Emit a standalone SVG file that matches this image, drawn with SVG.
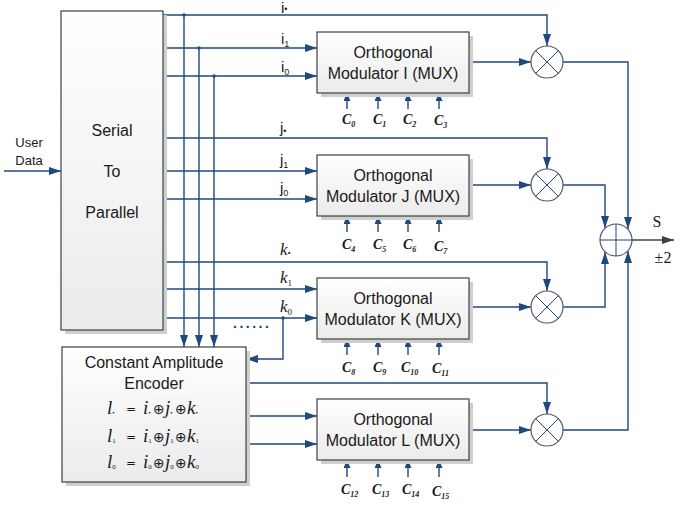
<svg xmlns="http://www.w3.org/2000/svg" width="692" height="511" viewBox="0 0 692 511">
<defs>
<linearGradient id="boxg" x1="0" y1="0" x2="0" y2="1">
<stop offset="0" stop-color="#ffffff"/>
<stop offset="1" stop-color="#ebebeb"/>
</linearGradient>
<marker id="ah" markerUnits="userSpaceOnUse" markerWidth="12" markerHeight="8" refX="12" refY="4" orient="auto" viewBox="0 0 12 8">
<path d="M0,0 L12,4 L0,8 z" fill="#1f497d"/>
</marker>
<marker id="ahs" markerUnits="userSpaceOnUse" markerWidth="8" markerHeight="7" refX="8" refY="3.5" orient="auto" viewBox="0 0 8 7">
<path d="M0,0 L8,3.5 L0,7 z" fill="#1f497d"/>
</marker>
<marker id="ahg" markerUnits="userSpaceOnUse" markerWidth="12" markerHeight="8" refX="12" refY="4" orient="auto" viewBox="0 0 12 8">
<path d="M0,0 L12,4 L0,8 z" fill="#404040"/>
</marker>
<style>
.box{fill:url(#boxg);stroke:#404040;stroke-width:1.2}
.sh{fill:#cfcfcf}
.ln{fill:none;stroke:#1f497d;stroke-width:1.4}
.a{marker-end:url(#ah)}
.as{marker-end:url(#ahs)}
.t{font-family:"Liberation Sans",Arial,sans-serif;font-size:16px;fill:#1a1a1a;text-anchor:middle}
.ts{font-family:"Liberation Sans",Arial,sans-serif;font-size:13px;fill:#1a1a1a;text-anchor:middle}
.lb{font-family:"Liberation Sans",Arial,sans-serif;font-size:15px;fill:#1a1a1a}
.lk{font-family:"Liberation Serif",serif;font-style:italic;font-size:17px;fill:#1a1a1a}
.sub{font-size:9px}
.c{font-family:"Liberation Serif",serif;font-style:italic;font-weight:bold;font-size:14px;fill:#1a1a1a}
.cs{font-size:8px}
.eq{font-family:"Liberation Serif",serif;font-style:italic;font-size:19px;fill:#1a1a1a}
.eqs{font-size:7px;font-style:normal}
.op{font-family:"DejaVu Sans",sans-serif;font-style:normal;font-size:12px;fill:#1a1a1a}
.ox{font-family:"DejaVu Sans",sans-serif;font-style:normal;font-size:14px;fill:#1a1a1a}
.mc{fill:#ffffff;stroke:#595959;stroke-width:1.2}
.mx{stroke:#1f497d;stroke-width:1;fill:none}
.dot{fill:#1f497d}
.sv{font-family:"Liberation Serif",serif;font-size:16px;fill:#1a1a1a;text-anchor:middle}
</style>
</defs>
<rect width="692" height="511" fill="#ffffff"/>

<g id="connectors">
<path class="ln a" d="M4,171 H61"/>
<path class="ln a" d="M163,15 H547 V46"/>
<path class="ln a" d="M163,48 H317"/>
<path class="ln a" d="M163,76 H317"/>
<path class="ln a" d="M163,138 H547 V169"/>
<path class="ln a" d="M163,171 H317"/>
<path class="ln a" d="M163,199 H317"/>
<path class="ln a" d="M163,262 H547 V291"/>
<path class="ln a" d="M163,289 H317"/>
<path class="ln a" d="M163,318 H317"/>
<path class="ln a" d="M184,15 V347"/>
<path class="ln a" d="M199,48 V347"/>
<path class="ln a" d="M214,76 V347"/>
<path class="ln a" d="M283,318 V359 H246"/>
<path class="ln a" d="M246,383 H547 V414"/>
<path class="ln a" d="M246,416 H317"/>
<path class="ln a" d="M246,444 H317"/>
<path class="ln a" d="M469,62 H531"/>
<path class="ln a" d="M469,185 H531"/>
<path class="ln a" d="M469,307 H531"/>
<path class="ln a" d="M469,430 H531"/>
<path class="ln a" d="M563,62 H628 V229"/>
<path class="ln a" d="M563,185 H605 V228"/>
<path class="ln a" d="M563,307 H605 V252"/>
<path class="ln a" d="M563,430 H628 V251"/>
<path fill="none" stroke="#404040" stroke-width="1.4" marker-end="url(#ahg)" d="M632,240 H674"/>
<path class="ln as" d="M347,109 V93"/>
<path class="ln as" d="M378,109 V93"/>
<path class="ln as" d="M408,109 V93"/>
<path class="ln as" d="M439,109 V93"/>
<path class="ln as" d="M347,232 V216"/>
<path class="ln as" d="M378,232 V216"/>
<path class="ln as" d="M408,232 V216"/>
<path class="ln as" d="M439,232 V216"/>
<path class="ln as" d="M347,355 V339"/>
<path class="ln as" d="M378,355 V339"/>
<path class="ln as" d="M408,355 V339"/>
<path class="ln as" d="M439,355 V339"/>
<path class="ln as" d="M347,477 V460"/>
<path class="ln as" d="M378,477 V460"/>
<path class="ln as" d="M408,477 V460"/>
<path class="ln as" d="M439,477 V460"/>
<circle class="dot" cx="184" cy="15" r="1.7"/>
<circle class="dot" cx="199" cy="48" r="1.7"/>
<circle class="dot" cx="214" cy="76" r="1.7"/>
<circle class="dot" cx="283" cy="318" r="1.7"/>
</g>

<g id="line-labels">
<text class="ts" x="29" y="147">User</text>
<text class="ts" x="29" y="165">Data</text>
<text class="lb" x="281" y="13">i<tspan class="sub" dy="-1">•</tspan></text>
<text class="lb" x="281" y="44">i<tspan class="sub" dy="3">1</tspan></text>
<text class="lb" x="281" y="72">i<tspan class="sub" dy="3">0</tspan></text>
<text class="lb" x="280" y="133">j<tspan class="sub" dy="1">•</tspan></text>
<text class="lb" x="280" y="165">j<tspan class="sub" dy="3">1</tspan></text>
<text class="lb" x="280" y="193">j<tspan class="sub" dy="3">0</tspan></text>
<text class="lk" x="280" y="255">k<tspan class="sub" dy="1">•</tspan></text>
<text class="lk" x="280" y="283">k<tspan class="sub" dy="3" font-style="normal">1</tspan></text>
<text class="lk" x="280" y="312">k<tspan class="sub" dy="3" font-style="normal">0</tspan></text>
<text x="233" y="328" font-family="Liberation Sans, sans-serif" font-weight="bold" font-size="14" letter-spacing="2.5" fill="#1f3f6f">......</text>
<text class="sv" x="657" y="227">S</text>
<text class="sv" x="663" y="263">±2</text>
</g>

<g id="c-labels">
<text class="c" x="342" y="124">C<tspan class="cs" dy="3">0</tspan></text>
<text class="c" x="373" y="124">C<tspan class="cs" dy="3">1</tspan></text>
<text class="c" x="403" y="124">C<tspan class="cs" dy="3">2</tspan></text>
<text class="c" x="434" y="125">C<tspan class="cs" dy="3">3</tspan></text>
<text class="c" x="342" y="249">C<tspan class="cs" dy="3">4</tspan></text>
<text class="c" x="373" y="249">C<tspan class="cs" dy="3">5</tspan></text>
<text class="c" x="403" y="249">C<tspan class="cs" dy="3">6</tspan></text>
<text class="c" x="434" y="251">C<tspan class="cs" dy="3">7</tspan></text>
<text class="c" x="342" y="372">C<tspan class="cs" dy="3">8</tspan></text>
<text class="c" x="373" y="372">C<tspan class="cs" dy="3">9</tspan></text>
<text class="c" x="401" y="372">C<tspan class="cs" dy="3">10</tspan></text>
<text class="c" x="432" y="373">C<tspan class="cs" dy="3">11</tspan></text>
<text class="c" x="341" y="494">C<tspan class="cs" dy="3">12</tspan></text>
<text class="c" x="372" y="494">C<tspan class="cs" dy="3">13</tspan></text>
<text class="c" x="402" y="494">C<tspan class="cs" dy="3">14</tspan></text>
<text class="c" x="432" y="496">C<tspan class="cs" dy="3">15</tspan></text>
</g>

<g id="serial-to-parallel">
<rect class="sh" x="65" y="15" width="102" height="319"/>
<rect class="box" x="61" y="11" width="102" height="319"/>
<text class="t" x="112" y="136">Serial</text>
<text class="t" x="112" y="177">To</text>
<text class="t" x="112" y="218">Parallel</text>
</g>

<g id="encoder">
<rect class="sh" x="66" y="351" width="184" height="135"/>
<rect class="box" x="62" y="347" width="184" height="135"/>
<text class="t" x="154" y="368">Constant Amplitude</text>
<text class="t" x="154" y="389">Encoder</text>
<text class="eq" y="414"><tspan x="107">l</tspan><tspan class="eqs" dy="1">•</tspan><tspan class="op" x="126" dy="-2">=</tspan><tspan x="143" dy="1">i</tspan><tspan class="eqs" dy="1">•</tspan><tspan class="ox" x="153" dy="-1">⊕</tspan><tspan x="165">j</tspan><tspan class="eqs" dy="1">•</tspan><tspan class="ox" x="175" dy="-1">⊕</tspan><tspan x="187">k</tspan><tspan class="eqs" dy="1">•</tspan></text>
<text class="eq" y="442"><tspan x="107">l</tspan><tspan class="eqs" dy="1">1</tspan><tspan class="op" x="126" dy="-2">=</tspan><tspan x="143" dy="1">i</tspan><tspan class="eqs" dy="1">1</tspan><tspan class="ox" x="153" dy="-1">⊕</tspan><tspan x="165">j</tspan><tspan class="eqs" dy="1">1</tspan><tspan class="ox" x="175" dy="-1">⊕</tspan><tspan x="187">k</tspan><tspan class="eqs" dy="1">1</tspan></text>
<text class="eq" y="468"><tspan x="107">l</tspan><tspan class="eqs" dy="1">0</tspan><tspan class="op" x="126" dy="-2">=</tspan><tspan x="143" dy="1">i</tspan><tspan class="eqs" dy="1">0</tspan><tspan class="ox" x="153" dy="-1">⊕</tspan><tspan x="165">j</tspan><tspan class="eqs" dy="1">0</tspan><tspan class="ox" x="175" dy="-1">⊕</tspan><tspan x="187">k</tspan><tspan class="eqs" dy="1">0</tspan></text>
</g>

<g id="modulator-i">
<rect class="sh" x="321" y="36" width="152" height="61"/>
<rect class="box" x="317" y="32" width="152" height="61"/>
<text class="t" x="393" y="58">Orthogonal</text>
<text class="t" x="393" y="79">Modulator I (MUX)</text>
</g>
<g id="modulator-j">
<rect class="sh" x="321" y="159" width="152" height="61"/>
<rect class="box" x="317" y="155" width="152" height="61"/>
<text class="t" x="393" y="181">Orthogonal</text>
<text class="t" x="393" y="202">Modulator J (MUX)</text>
</g>
<g id="modulator-k">
<rect class="sh" x="321" y="282" width="152" height="61"/>
<rect class="box" x="317" y="278" width="152" height="61"/>
<text class="t" x="393" y="304">Orthogonal</text>
<text class="t" x="393" y="325">Modulator K (MUX)</text>
</g>
<g id="modulator-l">
<rect class="sh" x="321" y="403" width="152" height="61"/>
<rect class="box" x="317" y="399" width="152" height="61"/>
<text class="t" x="393" y="425">Orthogonal</text>
<text class="t" x="393" y="446">Modulator L (MUX)</text>
</g>

<g id="mult-i">
<circle class="mc" cx="547" cy="62" r="16"/>
<path class="mx" d="M535.7,50.7 L558.3,73.3 M558.3,50.7 L535.7,73.3"/>
</g>
<g id="mult-j">
<circle class="mc" cx="547" cy="185" r="16"/>
<path class="mx" d="M535.7,173.7 L558.3,196.3 M558.3,173.7 L535.7,196.3"/>
</g>
<g id="mult-k">
<circle class="mc" cx="547" cy="307" r="16"/>
<path class="mx" d="M535.7,295.7 L558.3,318.3 M558.3,295.7 L535.7,318.3"/>
</g>
<g id="mult-l">
<circle class="mc" cx="547" cy="430" r="16"/>
<path class="mx" d="M535.7,418.7 L558.3,441.3 M558.3,418.7 L535.7,441.3"/>
</g>
<g id="adder">
<circle class="mc" cx="616" cy="240" r="16"/>
<path class="mx" d="M600,240 H632 M616,224 V256"/>
</g>
</svg>
